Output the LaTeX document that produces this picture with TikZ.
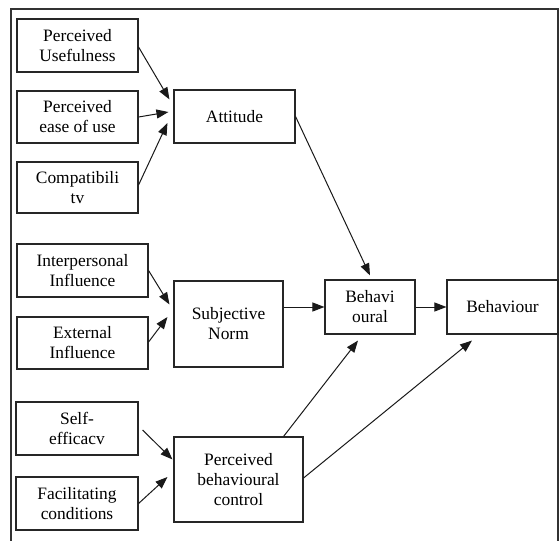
\documentclass[tikz,border=0pt]{standalone}
\usepackage{fontspec}
\setmainfont{Liberation Serif}
\usetikzlibrary{arrows.meta,calc}
\begin{document}
\begin{tikzpicture}[x=1pt,y=-1pt,
  box/.style={draw=black!85,line width=1.1pt,fill=white,align=center,inner sep=0pt,
    font=\fontsize{17.4}{20}\selectfont},
  arr/.style={draw=black!90,line width=1pt,-{Triangle[length=12pt,width=9pt]}},
  frame/.style={draw=black!80,line width=1.3pt}]
\useasboundingbox (0,0) rectangle (560,541);
% outer frame (open at bottom)
\draw[frame] (11,541) -- (11,9) -- (558,9) -- (558,541);
% boxes
\node[box,minimum width=121pt,minimum height=53pt] (pu)   at (77.5,45.5)  {Perceived\\Usefulness};
\node[box,minimum width=121pt,minimum height=52pt] (peou) at (77.5,117)   {Perceived\\ease of use};
\node[box,minimum width=121pt,minimum height=51pt] (comp) at (77.5,187.5) {Compatibili\\tv};
\node[box,minimum width=121pt,minimum height=53pt] (att)  at (234.5,116.5) {Attitude};
\node[box,minimum width=131pt,minimum height=53pt] (ip)   at (82.5,270.5) {Interpersonal\\Influence};
\node[box,minimum width=131pt,minimum height=52pt] (ext)  at (82.5,343)   {External\\Influence};
\node[box,minimum width=109pt,minimum height=86pt] (sn)   at (228.5,324)  {Subjective\\Norm};
\node[box,minimum width=122pt,minimum height=53pt] (se)   at (77,428.5)   {Self-\\efficacv};
\node[box,minimum width=122pt,minimum height=53pt] (fc)   at (77,503.5)   {Facilitating\\conditions};
\node[box,minimum width=129pt,minimum height=85pt] (pbc)  at (238.5,479.5) {Perceived\\behavioural\\control};
\node[box,minimum width=90pt,minimum height=54pt]  (beh)  at (370,307)    {Behavi\\oural};
\node[box,minimum width=111pt,minimum height=54pt] (bhv)  at (502.5,307)  {Behaviour};
% connectors
\draw[arr] ($(pu.east)+(0,1.5)$) -- ($(att.north west)+(-4,10)$);
\draw[arr] (peou.east) -- ($(att.west)+(-5,-4.5)$);
\draw[arr] ($(comp.east)+(0,-2.5)$) -- ($(att.west)+(-6,6.5)$);
\draw[arr] (att.east) -- ($(beh.north)+(0,-4)$);
\draw[arr] (ip.east) -- ($(sn.north west)+(-4,24)$);
\draw[arr] ($(ext.east)+(0,-1)$) -- ($(sn.west)+(-6,-7)$);
\draw[arr] (sn.east |- beh.west) -- (beh.west);
\draw[arr] (beh.east) -- (bhv.west);
\draw[arr] ($(se.east)+(4,1.5)$) -- ($(pbc.north west)+(-1,23)$);
\draw[arr] (fc.east) -- ($(pbc.west)+(-6,-2.5)$);
\draw[arr] ($(pbc.north east)+(-20,0)$) -- ($(beh.south)+(-12,6)$);
\draw[arr] ($(pbc.east)+(0,-1.5)$) -- ($(bhv.south)+(-30.5,6)$);
\end{tikzpicture}
\end{document}
